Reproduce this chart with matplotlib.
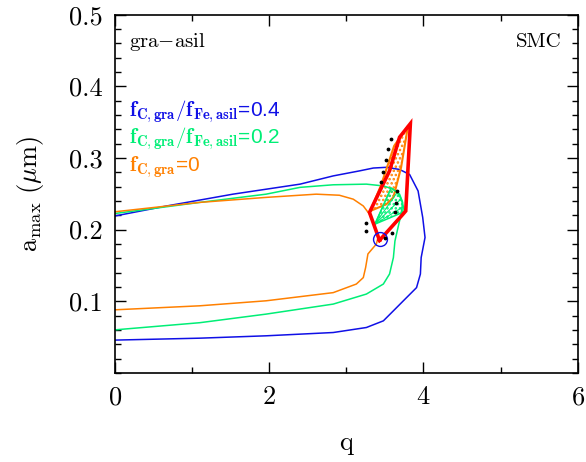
import matplotlib
matplotlib.use("Agg")
import matplotlib.pyplot as plt
from matplotlib.ticker import MultipleLocator

plt.rcParams['font.family'] = 'serif'
plt.rcParams['font.serif'] = ['cmr10']
plt.rcParams['mathtext.fontset'] = 'cm'
plt.rcParams['axes.formatter.use_mathtext'] = True
plt.rcParams['hatch.linewidth'] = 1.2

# Curves: q on x, a_max (um) on y
blue_q = [0, 0.67, 1.53, 2.40, 2.83, 3.17, 3.35, 3.52, 3.69, 3.82, 3.93, 3.99, 4.02,
          3.97, 3.96, 3.91, 3.78, 3.61, 3.48, 3.26, 2.83, 1.96, 1.10, 0]
blue_a = [0.219, 0.233, 0.2495, 0.2635, 0.275, 0.282, 0.286, 0.287, 0.284, 0.277, 0.254,
          0.217, 0.189, 0.161, 0.138, 0.119, 0.105, 0.0866, 0.0726, 0.0633, 0.0563,
          0.0517, 0.0484, 0.0457]

green_q = [0, 1.10, 1.96, 2.40, 2.83, 3.26, 3.48, 3.61, 3.69, 3.73, 3.71, 3.67, 3.63,
           3.61, 3.56, 3.48, 3.26, 2.83, 1.96, 1.10, 0]
green_a = [0.2225, 0.238, 0.2495, 0.259, 0.2626, 0.2635, 0.261, 0.2565, 0.2495, 0.238,
           0.2216, 0.203, 0.184, 0.161, 0.138, 0.124, 0.110, 0.096, 0.082, 0.070, 0.060]

orange_q = [0, 1.10, 1.96, 2.61, 2.91, 3.09, 3.22, 3.30, 3.37, 3.41, 3.39, 3.28, 3.25,
            3.22, 3.13, 2.83, 1.96, 1.10, 0]
orange_a = [0.2249, 0.238, 0.245, 0.2495, 0.248, 0.2425, 0.233, 0.2216, 0.203, 0.189,
            0.18, 0.166, 0.147, 0.133, 0.124, 0.112, 0.1006, 0.0936, 0.088]

# best-fit point
best_q = [3.43]
best_a = [0.187]

# red outline
red_q = [3.43, 3.30, 3.56, 3.69, 3.83, 3.80, 3.77, 3.73, 3.43]
red_a = [0.185, 0.224, 0.282, 0.329, 0.348, 0.287, 0.226, 0.221, 0.185]

# orange region
oreg_q = [3.31, 3.45, 3.62, 3.80, 3.71, 3.61, 3.52, 3.31]
oreg_a = [0.226, 0.262, 0.317, 0.345, 0.287, 0.245, 0.2355, 0.226]

# green region
greg_q = [3.37, 3.58, 3.66, 3.71, 3.74, 3.73, 3.37]
greg_a = [0.2076, 0.258, 0.252, 0.243, 0.232, 0.224, 0.2076]

# black dots
dot_q = [3.58, 3.54, 3.51, 3.48, 3.45, 3.66, 3.65, 3.63, 3.26, 3.26, 3.59, 3.50]
dot_a = [0.327, 0.312, 0.297, 0.280, 0.266, 0.254, 0.237, 0.224, 0.209, 0.198, 0.195, 0.188]

blue = '#1010e6'
green = '#00ee76'
orange = '#ff8000'
red = '#ff0000'

fig = plt.figure(figsize=(5.86, 4.62), dpi=100)
ax = fig.add_axes([0.196, 0.193, 0.790, 0.775])

ax.plot(blue_q, blue_a, color=blue, lw=1.1)
ax.plot(green_q, green_a, color=green, lw=1.1)
ax.plot(orange_q, orange_a, color=orange, lw=1.1)

ax.fill(oreg_q, oreg_a, facecolor='none', edgecolor=orange, hatch='....', lw=0)
ax.plot(oreg_q, oreg_a, color=orange, lw=1.5)
ax.fill(greg_q, greg_a, facecolor='none', edgecolor=green, hatch='....', lw=0)
ax.plot(greg_q, greg_a, color=green, lw=1.1)
for i in range(1, 5):
    ax.plot([greg_q[0], greg_q[i]], [greg_a[0], greg_a[i]], color=green, lw=0.8)

ax.plot(red_q, red_a, color=red, lw=2.6, solid_joinstyle='miter')
ax.scatter(dot_q, dot_a, s=3, color='black', zorder=5)
ax.plot(best_q, best_a, 'o', mfc='none', mec=blue, ms=10, mew=1.0)

ax.set_xlim(0, 6)
ax.set_ylim(0, 0.5)
ax.set_xticks([0, 2, 4, 6])
ax.set_yticks([0.1, 0.2, 0.3, 0.4, 0.5])
ax.set_yticklabels(['0.1', '0.2', '0.3', '0.4', '0.5'])
ax.xaxis.set_minor_locator(MultipleLocator(1))
ax.yaxis.set_minor_locator(MultipleLocator(0.02))
ax.tick_params(which='both', direction='in', top=True, right=True, labelsize=19, pad=9)
ax.tick_params(which='major', length=8, width=1.0)
ax.tick_params(which='minor', length=4.5, width=1.0)
for s in ax.spines.values():
    s.set_linewidth(1.2)

ax.set_xlabel('q', fontsize=19, labelpad=16)
ax.set_ylabel(r'$\mathrm{a_{max}}\ (\mu\mathrm{m})$', fontsize=19, labelpad=16)

ax.text(0.03, 0.925, r'gra$-$asil', transform=ax.transAxes, fontsize=15, va='center')
ax.text(0.965, 0.925, 'SMC', transform=ax.transAxes, fontsize=15, va='center', ha='right')

sans = ['Liberation Sans', 'DejaVu Sans']
ax.text(0.03, 0.73, r'$\mathbf{f}_{\mathbf{C,gra}}/\mathbf{f}_{\mathbf{Fe,asil}}$=0.4',
        transform=ax.transAxes, fontsize=15, color=blue, va='center', family=sans)
ax.text(0.03, 0.655, r'$\mathbf{f}_{\mathbf{C,gra}}/\mathbf{f}_{\mathbf{Fe,asil}}$=0.2',
        transform=ax.transAxes, fontsize=15, color=green, va='center', family=sans)
ax.text(0.03, 0.575, r'$\mathbf{f}_{\mathbf{C,gra}}$=0',
        transform=ax.transAxes, fontsize=15, color=orange, va='center', family=sans)

fig.savefig('out.png', dpi=100)
